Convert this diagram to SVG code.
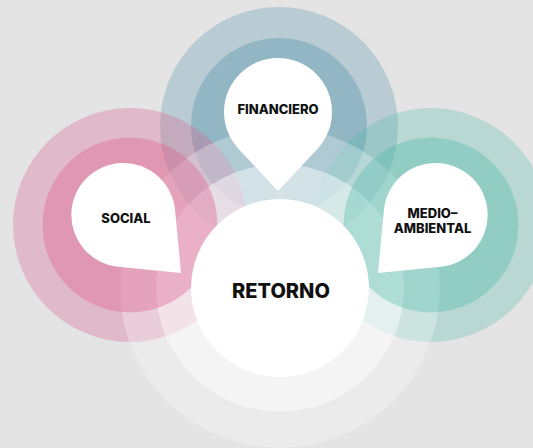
<svg xmlns="http://www.w3.org/2000/svg" width="533" height="448" viewBox="0 0 533 448">
  <style>
    .lbl { font-family: Inter, "Liberation Sans", sans-serif; font-weight: 800; fill: #111; text-anchor: middle; }
    .sm { font-size: 13px; }
    .lg { font-size: 20px; }
    .blue { fill: #5a96ac; }
    .pink { fill: #dc6491; }
    .teal { fill: #4bb9aa; }
    .drop { fill: #ffffff; }
  </style>
  <rect width="533" height="448" fill="#e4e4e4"/>

  <!-- back layer: outer rings -->
  <g id="rings-back">
    <circle class="blue" cx="279" cy="126" r="119" opacity="0.3"/>
    <circle class="blue" cx="279" cy="126" r="88" opacity="0.41"/>
    <circle class="pink" cx="130" cy="225" r="117" opacity="0.33"/>
    <circle class="teal" cx="431" cy="225" r="117" opacity="0.28"/>
  </g>

  <!-- retorno halo rings -->
  <g id="retorno-halo">
    <circle cx="280" cy="288" r="160" fill="#ffffff" opacity="0.28"/>
    <circle cx="280" cy="288" r="124" fill="#ffffff" opacity="0.45"/>
  </g>

  <g id="rings-front">
    <circle class="pink" cx="130" cy="225" r="87.5" opacity="0.4"/>
    <circle class="teal" cx="431" cy="225" r="87.5" opacity="0.35"/>
  </g>

  <g id="connectors"/>

  <g id="retorno">
    <circle cx="280" cy="288" r="89" fill="#ffffff"/>
    <text class="lbl lg" x="281" y="298">RETORNO</text>
  </g>

  <g id="financiero">
    <path class="drop" d="M278 191 L238.6 148.9 A54 54 0 1 1 317.4 148.9 Z"/>
    <text class="lbl sm" x="278" y="113.5">FINANCIERO</text>
  </g>

  <g id="social">
    <path class="drop" d="M181 273 L118.2 266.7 A52 52 0 1 1 175.1 210.2 Z"/>
    <text class="lbl sm" x="126" y="222.5">SOCIAL</text>
  </g>

  <g id="medioambiental">
    <path class="drop" d="M378 273 L383.9 210.2 A52 52 0 1 1 440.8 266.7 Z"/>
    <text class="lbl sm" x="432.5" y="217.7">MEDIO–</text>
    <text class="lbl sm" x="432.5" y="232.7">AMBIENTAL</text>
  </g>
</svg>
